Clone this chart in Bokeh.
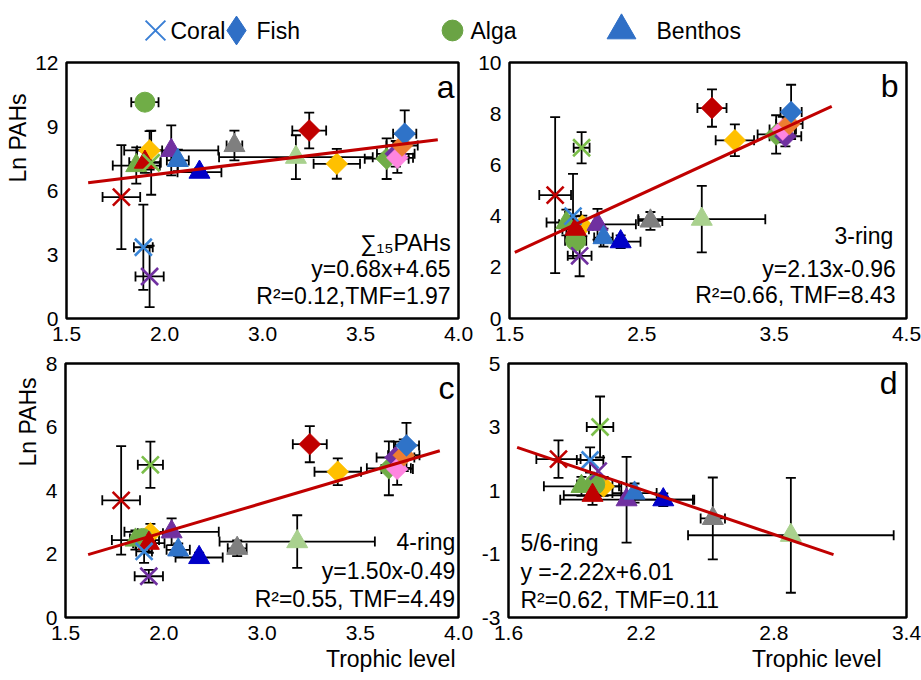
import numpy as np
from bokeh.plotting import figure
from bokeh.models import (ColumnDataSource, Whisker, TeeHead, Label, Legend,
                          LegendItem, FixedTicker, Range1d, Title)
from bokeh.layouts import column, row
from bokeh.embed import file_html
from bokeh.resources import INLINE

FONT = "Liberation Sans"

# ---------------- species (order shared by all panels) ----------------
SPECIES = ["Coral red", "Coral blue", "Coral purple", "Coral green", "Alga green",
           "Benthos green", "Benthos red", "Fish yellow (low)", "Benthos purple",
           "Benthos blue", "Benthos dark blue", "Benthos gray", "Benthos light green",
           "Fish red", "Fish yellow", "Fish green", "Fish purple", "Fish pink",
           "Fish orange", "Fish blue"]
GROUP = ["Coral", "Coral", "Coral", "Coral", "Alga",
         "Benthos", "Benthos", "Fish", "Benthos",
         "Benthos", "Benthos", "Benthos", "Benthos",
         "Fish", "Fish", "Fish", "Fish", "Fish", "Fish", "Fish"]
COLORS = ["#c00000", "#3a86d8", "#7030a0", "#7cbf4a", "#70ad47",
          "#70ad47", "#c00000", "#ffc000", "#7030a0",
          "#2f73c8", "#0000c8", "#7f7f7f", "#a9d18e",
          "#c00000", "#ffc000", "#70ad47", "#7030a0", "#ff85e0",
          "#ed7d31", "#2f73c8"]

# ---------------- panel a : sum15 PAHs ----------------
A_X = [1.85, 1.99, 2.03, 2.04, 2.00, 1.945, 2.00, 2.03, 2.168, 2.21, 2.348, 2.571, 2.963,
       3.048, 3.224, 3.542, 3.60, 3.61, 3.64, 3.657]
A_XERR = [0.12, 0.06, 0.09, 0.06, 0.087, 0.15, 0.10, 0.08, 0.30, 0.07, 0.14, 0.05, 0.49,
          0.108, 0.148, 0.14, 0.12, 0.10, 0.10, 0.074]
A_Y = [5.69, 3.34, 1.97, 7.30, 10.14, 7.17, 7.33, 7.88, 7.88, 7.41, 6.86, 8.11, 7.56,
       8.81, 7.25, 7.49, 7.72, 7.53, 8.11, 8.66]
A_YERR = [2.44, 2.0, 1.44, 1.5, 0.15, 0.85, 0.5, 0.9, 1.17, 0.5, 0.2, 0.7, 1.03,
          0.84, 0.7, 0.95, 0.6, 0.7, 0.6, 1.1]
A_FIT_X = [1.638, 3.868]
A_FIT_Y = [6.36, 8.38]

# ---------------- panel b : 3-ring ----------------
B_X = [1.845, 1.98, 2.03, 2.045, 2.00, 1.93, 2.00, 2.05, 2.165, 2.21, 2.34, 2.565, 2.953,
       3.03, 3.203, 3.515, 3.585, 3.565, 3.615, 3.628]
B_XERR = [0.12, 0.06, 0.09, 0.06, 0.08, 0.15, 0.10, 0.08, 0.29, 0.07, 0.15, 0.09, 0.48,
          0.11, 0.145, 0.14, 0.12, 0.10, 0.10, 0.08]
B_Y = [4.82, 4.0, 2.45, 6.67, 3.04, 3.75, 3.49, 3.62, 3.68, 3.16, 3.0, 3.81, 3.88,
       8.22, 6.96, 7.19, 7.12, 7.38, 7.6, 8.07]
B_YERR = [3.05, 1.65, 0.8, 0.61, 0.3, 0.5, 0.5, 0.4, 0.6, 0.35, 0.25, 0.35, 1.3,
          0.73, 0.62, 0.75, 0.4, 0.5, 0.5, 1.06]
B_FIT_X = [1.54, 3.935]
B_FIT_Y = [2.58, 8.29]

# ---------------- panel c : 4-ring ----------------
C_X = [1.854, 2.0, 2.03, 2.04, 1.99, 1.945, 2.03, 2.04, 2.175, 2.217, 2.35, 2.592, 2.974,
       3.054, 3.232, 3.557, 3.599, 3.61, 3.652, 3.669]
C_XERR = [0.12, 0.05, 0.09, 0.08, 0.08, 0.15, 0.10, 0.08, 0.30, 0.074, 0.15, 0.06, 0.494,
          0.108, 0.148, 0.14, 0.12, 0.10, 0.10, 0.08]
C_Y = [3.69, 2.08, 1.3, 4.81, 2.49, 2.44, 2.34, 2.65, 2.7, 2.13, 1.89, 2.18, 2.39,
       5.46, 4.59, 4.7, 5.04, 4.68, 5.11, 5.42]
C_YERR = [1.71, 0.36, 0.2, 0.73, 0.2, 0.3, 0.3, 0.3, 0.42, 0.2, 0.15, 0.25, 0.83,
          0.57, 0.42, 0.85, 0.5, 0.5, 0.5, 0.71]
C_FIT_X = [1.644, 3.881]
C_FIT_Y = [1.98, 5.25]

# ---------------- panel d : 5/6-ring (no fish shown) ----------------
D_X = [1.826, 1.969, 2.006, 2.014, 1.99, 1.93, 1.98, 2.03, 2.134, 2.17, 2.30, 2.524, 2.877,
       None, None, None, None, None, None, None]
D_XERR = [0.10, 0.06, 0.0, 0.06, 0.08, 0.17, 0.13, 0.08, 0.30, 0.10, 0.14, 0.055, 0.465,
          None, None, None, None, None, None, None]
D_Y = [1.99, 1.96, 1.61, 3.0, 1.19, 1.13, 0.85, 1.13, 0.71, 0.92, 0.71, 0.12, -0.41,
       None, None, None, None, None, None, None]
D_YERR = [0.59, 0.4, 0.0, 0.96, 0.3, 0.3, 0.3, 0.3, 1.35, 0.3, 0.2, 1.29, 1.81,
          None, None, None, None, None, None, None]
D_FIT_X = [1.639, 3.07]
D_FIT_Y = [2.36, -1.02]

# ---------------- axes ----------------
TICKS_AC = [1.5, 2.125, 2.75, 3.375, 4.0]
TICK_LABELS_AC = ["1.5", "2.0", "3.0", "3.5", "4.0"]
TICKS_B = [1.5, 2.5, 3.5, 4.5]
TICKS_D = [1.6, 2.2, 2.8, 3.4]
YTICKS_A = [0, 3, 6, 9, 12]
YTICKS_B = [0, 2, 4, 6, 8, 10]
YTICKS_C = [0, 2, 4, 6, 8]
YTICKS_D = [-3, -1, 1, 3, 5]
YTICK_LABELS_D = ["-3", "-1", "1", "3", "5"]

LEGEND_LABELS = ["Coral", "Fish", "Alga", "Benthos"]


def clean(v):
    return np.array([np.nan if a is None else a for a in v], dtype=float)


def make_panel(w, h, xr, yr, xticks, yticks, borders, X, XE, Y, YE, FX, FY,
               xlabels=None, ylabels=None):
    bl, br, bt, bb = borders
    p = figure(width=w, height=h, x_range=Range1d(*xr), y_range=Range1d(*yr),
               output_backend="svg", toolbar_location=None,
               min_border_left=bl, min_border_right=br, min_border_top=bt,
               min_border_bottom=bb)
    p.grid.visible = False
    p.outline_line_color = "black"
    p.outline_line_width = 2.5
    p.background_fill_color = "white"
    p.border_fill_color = "white"
    for ax in p.axis:
        ax.axis_line_color = None
        ax.major_tick_line_color = None
        ax.minor_tick_line_color = None
        ax.major_label_text_font = FONT
        ax.major_label_text_font_size = "21px"
        ax.major_label_text_color = "black"
        ax.major_label_standoff = 2
    p.xaxis.ticker = FixedTicker(ticks=xticks)
    p.yaxis.ticker = FixedTicker(ticks=yticks)
    if xlabels is not None:
        p.xaxis.major_label_overrides = {float(t): l for t, l in zip(xticks, xlabels)}
    if ylabels is not None:
        p.yaxis.major_label_overrides = {float(t): l for t, l in zip(yticks, ylabels)}

    x, xe, y, ye = clean(X), clean(XE), clean(Y), clean(YE)
    idx = np.where(~np.isnan(x))[0]

    # error bars
    okx = idx[xe[idx] > 0]
    oky = idx[ye[idx] > 0]
    sx = ColumnDataSource(dict(y=y[okx], lo=(x - xe)[okx], hi=(x + xe)[okx]))
    sy = ColumnDataSource(dict(x=x[oky], lo=(y - ye)[oky], hi=(y + ye)[oky]))
    for s, base, dim in ((sx, "y", "width"), (sy, "x", "height")):
        wk = Whisker(source=s, base=base, lower="lo", upper="hi", dimension=dim,
                     line_color="black", line_width=1.8, level="underlay",
                     lower_head=TeeHead(size=10, line_color="black", line_width=1.8),
                     upper_head=TeeHead(size=10, line_color="black", line_width=1.8))
        p.add_layout(wk)

    def sub(g):
        ii = [i for i in idx if GROUP[i] == g]
        return ColumnDataSource(dict(x=x[ii], y=y[ii], color=[COLORS[i] for i in ii],
                                     name=[SPECIES[i] for i in ii]))

    p.scatter("x", "y", source=sub("Fish"), marker="square", angle=np.pi / 4,
              size=15.5, fill_color="color", line_color="color", line_width=0.5)
    p.scatter("x", "y", source=sub("Alga"), marker="circle", size=20,
              fill_color="color", line_color="color")
    p.scatter("x", "y", source=sub("Benthos"), marker="triangle", size=21,
              fill_color="color", line_color="color")
    p.scatter("x", "y", source=sub("Coral"), marker="x", size=24,
              line_color="color", line_width=2.6)
    p.line(FX, FY, line_color="#c00000", line_width=3)
    return p


def add_text(p, x, y, text, align="right", size="23px"):
    p.add_layout(Label(x=x, y=y, text=text, text_align=align, text_baseline="middle",
                       text_font=FONT, text_font_size=size, text_color="black"))


def add_title(p, text, side, offset, standoff):
    p.add_layout(Title(text=text, align="right", offset=offset, standoff=standoff,
                       text_font=FONT, text_font_size="23px",
                       text_font_style="normal", text_color="black"), side)


pa = make_panel(475, 294, (1.5, 4.0), (0, 12), TICKS_AC, YTICKS_A, (65, 17, 12, 26),
                A_X, A_XERR, A_Y, A_YERR, A_FIT_X, A_FIT_Y, TICK_LABELS_AC)
pb = make_panel(446, 294, (1.5, 4.5), (0, 10), TICKS_B, YTICKS_B, (33, 15, 11, 26),
                B_X, B_XERR, B_Y, B_YERR, B_FIT_X, B_FIT_Y)
pc = make_panel(475, 336, (1.5, 4.0), (0, 8), TICKS_AC, YTICKS_C, (65, 17, 16, 63),
                C_X, C_XERR, C_Y, C_YERR, C_FIT_X, C_FIT_Y, TICK_LABELS_AC)
pd = make_panel(446, 336, (1.6, 3.4), (-3, 5), TICKS_D, YTICKS_D, (33, 15, 19, 63),
                D_X, D_XERR, D_Y, D_YERR, D_FIT_X, D_FIT_Y, None, YTICK_LABELS_D)

# panel texts
add_text(pa, 3.975, 10.83, "a", size="32px")
add_text(pa, 3.95, 3.52, "∑₁₅PAHs")
add_text(pa, 3.95, 2.34, "y=0.68x+4.65")
add_text(pa, 3.95, 1.05, "R²=0.12,TMF=1.97")

add_text(pb, 4.44, 9.07, "b", size="32px")
add_text(pb, 4.40, 3.23, "3-ring")
add_text(pb, 4.42, 1.93, "y=2.13x-0.96")
add_text(pb, 4.42, 0.93, "R²=0.66, TMF=8.43")

add_text(pc, 3.975, 7.22, "c", size="32px")
add_text(pc, 3.98, 2.39, "4-ring")
add_text(pc, 3.98, 1.48, "y=1.50x-0.49")
add_text(pc, 3.98, 0.57, "R²=0.55, TMF=4.49")

add_text(pd, 3.36, 4.4, "d", size="32px")
add_text(pd, 1.654, -0.65, "5/6-ring", align="left")
add_text(pd, 1.654, -1.56, "y =-2.22x+6.01", align="left")
add_text(pd, 1.654, -2.45, "R²=0.62, TMF=0.11", align="left")

# axis titles
add_title(pa, "Ln PAHs", "left", 31, 4)
add_title(pc, "Ln PAHs", "left", 14, 4)
add_title(pc, "Trophic level", "below", 3, 2)
add_title(pd, "Trophic level", "below", 25, 2)

# ---------------- legend strip ----------------
lg = figure(width=921, height=50, x_range=Range1d(0, 921), y_range=Range1d(50, 0),
            output_backend="svg", toolbar_location=None, min_border=0,
            x_axis_type=None, y_axis_type=None)
lg.outline_line_color = None
lg.grid.visible = False
nan_src = ColumnDataSource(dict(x=[np.nan], y=[np.nan]))
r_coral = lg.scatter("x", "y", source=nan_src, marker="x", size=28,
                     line_color="#3a7fd5", line_width=2)
r_fish = lg.scatter("x", "y", source=nan_src, marker="diamond", size=29,
                    fill_color="#2f6fc6", line_color="#2f6fc6")
r_alga = lg.scatter("x", "y", source=nan_src, marker="circle", size=21,
                    fill_color="#6aa344", line_color="#6aa344")
r_benth = lg.scatter("x", "y", source=nan_src, marker="triangle", size=29,
                     fill_color="#2f6fc6", line_color="#2f6fc6")

LEG_MARK_X = [155, 236, 452, 621]
LEG_TEXT_X = [170, 256, 470, 656]
LEG_SIZE = [28, 29, 21, 29]
for r, lab, cx, tx, s in zip([r_coral, r_fish, r_alga, r_benth], LEGEND_LABELS,
                             LEG_MARK_X, LEG_TEXT_X, LEG_SIZE):
    g = int(round(2.5 * s))
    leg = Legend(items=[LegendItem(label="", renderers=[r])],
                 location=(cx - g / 2, 20 - g / 2), glyph_width=g, glyph_height=g,
                 label_standoff=0, label_width=0, padding=0, margin=0, spacing=0,
                 border_line_color=None, background_fill_alpha=0,
                 label_text_font=FONT, label_text_font_size="23px")
    lg.add_layout(leg)
    lg.add_layout(Label(x=tx, y=30, text=lab, text_align="left", text_baseline="middle",
                        text_font=FONT, text_font_size="23px", text_color="black"))

layout = column(lg, row(pa, pb), row(pc, pd))
open("out.html", "w").write(file_html(layout, INLINE))
